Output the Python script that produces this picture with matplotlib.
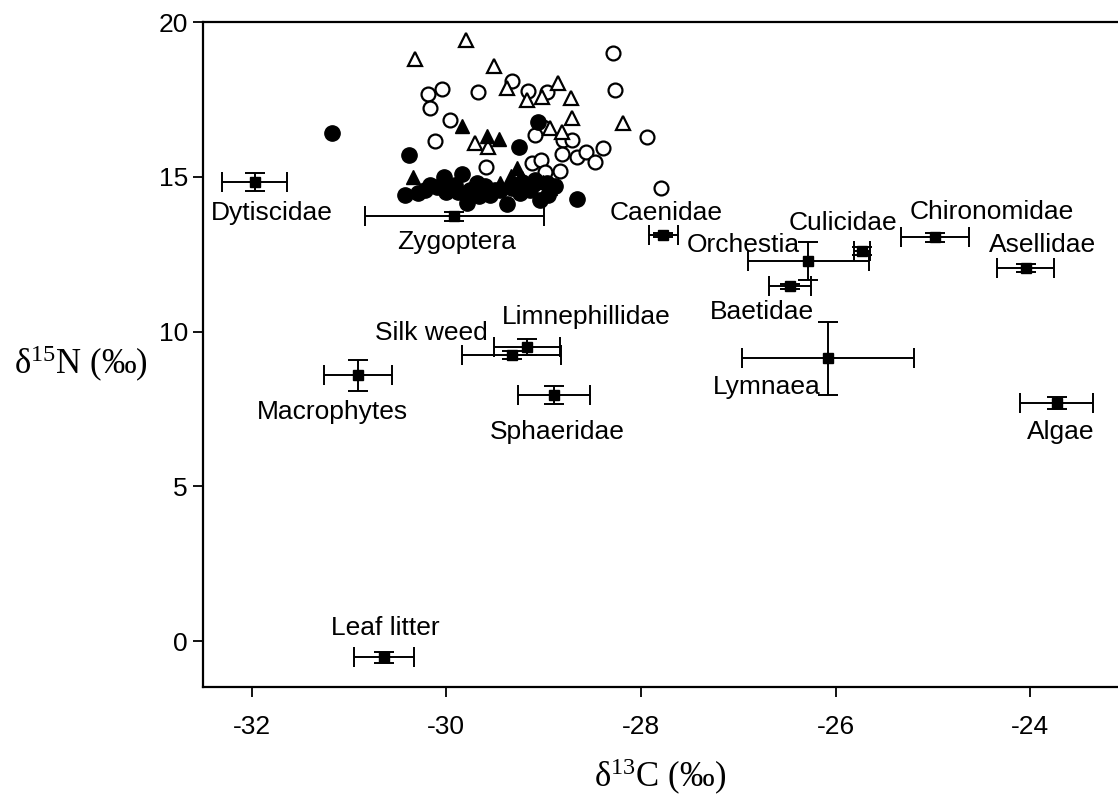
import matplotlib
matplotlib.use("Agg")
import matplotlib.pyplot as plt

plt.rcParams["font.family"] = ["Liberation Sans", "DejaVu Sans"]
plt.rcParams["mathtext.fontset"] = "custom"
plt.rcParams["mathtext.rm"] = "Liberation Serif"
plt.rcParams["mathtext.it"] = "Liberation Serif:italic"
plt.rcParams["axes.unicode_minus"] = False

# Taxa / sources with mean +- SE
taxa = ["Dytiscidae", "Zygoptera", "Caenidae", "Orchestia", "Culicidae",
        "Baetidae", "Chironomidae", "Asellidae", "Lymnaea", "Algae",
        "Macrophytes", "Silk weed", "Limnephillidae", "Sphaeridae", "Leaf litter"]
d13c = [-31.97, -29.92, -27.77, -26.28, -25.73, -26.47, -24.98, -24.05,
        -26.08, -23.73, -30.91, -29.33, -29.17, -28.89, -30.64]
d15n = [14.83, 13.73, 13.12, 12.28, 12.60, 11.47, 13.05, 12.05,
        9.14, 7.69, 8.59, 9.24, 9.50, 7.95, -0.52]
d13c_se = [0.33, 0.92, 0.15, 0.62, 0.08, 0.22, 0.35, 0.29,
           0.88, 0.375, 0.35, 0.51, 0.34, 0.37, 0.31]
d15n_se = [0.30, 0.15, 0.07, 0.62, 0.12, 0.08, 0.15, 0.12,
           1.18, 0.20, 0.50, 0.12, 0.27, 0.30, 0.18]

# Individual fish: filled/open circles, filled/open triangles
fc_x = [-31.18, -30.38, -29.06, -29.25, -28.66, -29.38, -30.43, -30.29, -30.22,
        -30.17, -30.10, -30.02, -30.00, -29.91, -29.88, -29.84, -29.79, -29.76,
        -29.69, -29.66, -29.60, -29.55, -29.50, -29.45, -29.33, -29.24, -29.22,
        -29.14, -29.09, -29.04, -28.97, -28.96, -28.88]
fc_y = [16.41, 15.70, 16.77, 15.96, 14.28, 14.12, 14.41, 14.47, 14.57,
        14.73, 14.67, 14.99, 14.51, 14.73, 14.51, 15.09, 14.15, 14.57,
        14.80, 14.38, 14.70, 14.41, 14.57, 14.57, 14.64, 14.47, 14.83,
        14.57, 14.89, 14.25, 14.80, 14.41, 14.70]

oc_x = [-30.19, -30.04, -30.17, -29.96, -30.12, -29.68, -29.33, -29.16, -28.97,
        -28.29, -28.27, -27.94, -27.80, -29.01, -29.09, -28.80, -28.71, -28.81,
        -28.66, -28.57, -28.47, -28.39, -29.12, -29.03, -28.99, -28.83, -29.59]
oc_y = [17.67, 17.84, 17.22, 16.83, 16.16, 17.74, 18.09, 17.77, 17.74,
        19.00, 17.80, 16.28, 14.64, 16.61, 16.35, 16.19, 16.19, 15.73,
        15.64, 15.80, 15.48, 15.93, 15.44, 15.54, 15.15, 15.19, 15.31]

ft_x = [-30.34, -29.84, -29.58, -29.46, -29.27, -29.34, -29.22, -29.45,
        -29.12, -29.01, -28.94]
ft_y = [14.99, 16.64, 16.32, 16.22, 15.28, 15.02, 14.96, 14.80,
        14.80, 14.83, 14.64]

ot_x = [-30.32, -29.80, -29.51, -29.38, -29.17, -29.02, -28.85, -28.72,
        -28.71, -28.19, -28.94, -28.81, -29.71, -29.57]
ot_y = [18.80, 19.42, 18.58, 17.87, 17.48, 17.58, 18.03, 17.55,
        16.90, 16.74, 16.58, 16.45, 16.09, 15.96]

# label offsets from each mean, in pixels (dx, dy)
label_offsets = [(17, -31), (2, -26), (3, 22), (-65, 16), (-19, 28),
                 (-28, -26), (57, 25), (17, 23), (-61, -29), (4, -29),
                 (-25, -37), (-80, 22), (59, 30), (3, -37), (1, 29)]

fig = plt.figure(figsize=(11.18, 7.99), dpi=100)
ax = fig.add_axes([0.1816, 0.140, 0.8184, 0.833])

ax.plot(oc_x, oc_y, "o", ms=10, mfc="white", mec="black", mew=1.6, ls="none")
ax.plot(ot_x, ot_y, "^", ms=10, mfc="white", mec="black", mew=1.6, ls="none")
ax.plot(fc_x, fc_y, "o", ms=11, mfc="black", mec="black", ls="none")
ax.plot(ft_x, ft_y, "^", ms=10.5, mfc="black", mec="black", ls="none")

ax.errorbar(d13c, d15n, xerr=d13c_se, yerr=d15n_se, fmt="s", ms=7,
            color="black", ecolor="black", elinewidth=1.4, capsize=7,
            capthick=1.4, ls="none")

for name, x, y, (dx, dy) in zip(taxa, d13c, d15n, label_offsets):
    ax.annotate(name, (x, y), xytext=(dx, dy), textcoords="offset pixels",
                ha="center", va="center", fontsize=19)

ax.set_xlim(-32.5, -23.1)
ax.set_ylim(-1.49, 20.02)
ax.set_xticks([-32, -30, -28, -26, -24])
ax.set_yticks([0, 5, 10, 15, 20])
ax.tick_params(direction="out", length=7, width=1.3, labelsize=19)
ax.tick_params(axis="x", pad=13)
ax.tick_params(axis="y", pad=4)
for side in ["left", "bottom", "top"]:
    ax.spines[side].set_linewidth(1.6)
ax.spines["right"].set_visible(False)

ax.set_xlabel("δ$^{13}$C (‰)", fontsize=25, family="Liberation Serif", va="center")
ax.set_ylabel("δ$^{15}$N (‰)", fontsize=25, family="Liberation Serif",
              rotation=0, ha="center", va="center")
ax.xaxis.set_label_coords(0.5, -0.135)
ax.yaxis.set_label_coords(-0.133, 0.485)

fig.savefig("out.png", dpi=100)
